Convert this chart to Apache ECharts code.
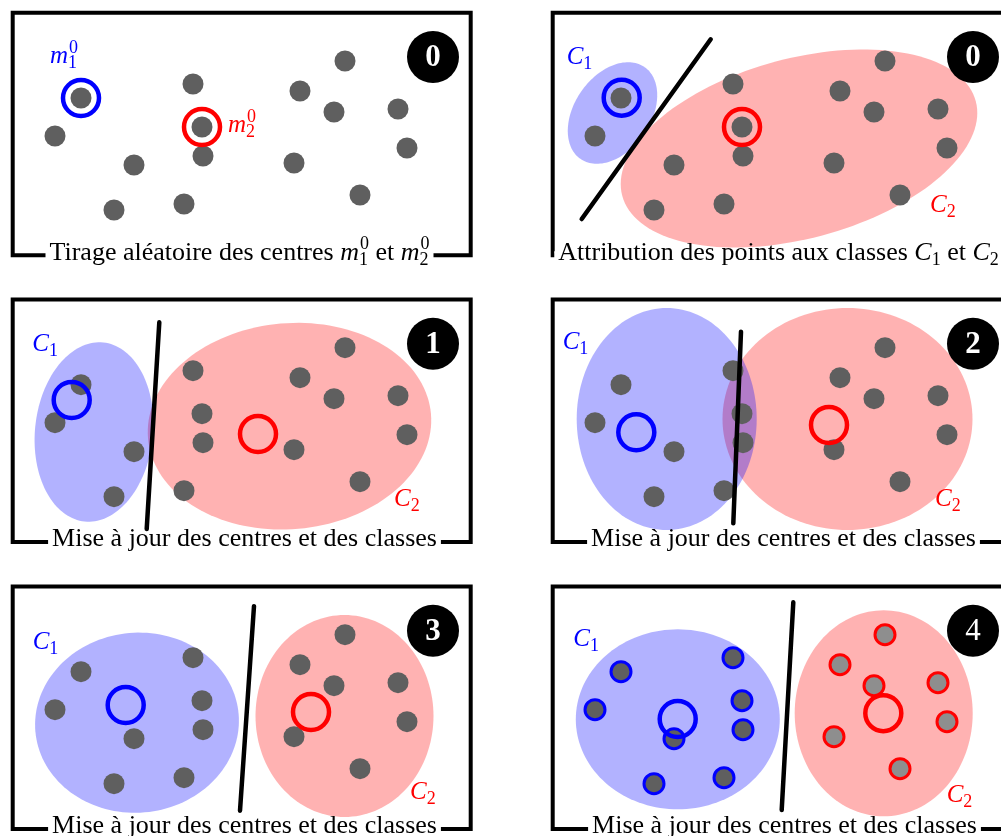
<!DOCTYPE html>
<html><head><meta charset="utf-8">
<script src="https://cdn.jsdelivr.net/npm/echarts@6/dist/echarts.min.js"></script>
<style>html,body{margin:0;padding:0;background:#fff}#c{width:1001px;height:836px}</style>
</head><body><div id="c"></div>
<script>
// ---------- data (panel-local units) ----------
const pointX = [81, 55, 134, 114, 193, 202, 203, 184, 345, 300, 334, 398, 407, 294, 360];
const pointY = [98, 136, 165, 210, 84, 127, 156, 204, 61, 91, 112, 109, 148, 163, 195];
const finalClass = [1, 1, 1, 1, 1, 1, 1, 1, 2, 2, 2, 2, 2, 2, 2];

const badgeLabels = ['0', '0', '1', '2', '3', '4'];
const center1 = [[81, 98], [81.7, 97.7], [71.7, 113.3], [96.3, 145.6], [125.7, 131.3], [137.7, 145.3]];
const center2 = [[202, 127], [202, 127], [258, 147.3], [289, 138.3], [311, 138.3], [343.3, 139.5]];
// [cx, cy, rx, ry, angleDeg]
const ellipse1 = [null, [72.5, 113, 56, 38, 55], [94, 145.3, 59, 90, -6], [126.7, 132.3, 90, 111, 0], [137, 149, 102, 90, 5], [137.8, 145.6, 102, 90, 0]];
const ellipse2 = [null, [259, 148.5, 183, 90, 15], [289.5, 139.5, 142, 103, 5], [307.5, 132.3, 125, 111, 0], [344.5, 142.3, 89, 101, 0], [343.7, 139.6, 89, 103, 0]];
const separators = [null, [[41.7, 219], [170.7, 39.3]], [[146.7, 242.3], [159.3, 35.6]], [[193.3, 236.6], [201, 45]], [[240, 237], [254, 32.5]], [[241.7, 236.3], [253.3, 28.6]]];

const labelMain = ['m', 'C', 'C', 'C', 'C', 'C'];
const labelSup = ['0', '', '', '', '', ''];
const label1Pos = [[50, 64], [26.7, 65], [32.3, 65.6], [22.7, 63.3], [32.7, 76.3], [33.3, 73]];
const label2Pos = [[228, 133], [390, 213], [394, 220], [395, 220], [410, 226], [406.7, 229.6]];

const captionMise = [{t: 'Mise à jour des centres et des classes'}];
const captions = [
  [{t: 'Tirage aléatoire des centres '}, {m: 'm', sub: '1', sup: '0'}, {t: ' et '}, {m: 'm', sub: '2', sup: '0'}],
  [{t: 'Attribution des points aux classes '}, {m: 'C', sub: '1'}, {t: ' et '}, {m: 'C', sub: '2'}],
  captionMise, captionMise, captionMise, captionMise
];
const captionCenterX = [239.5, 238.5, 244.5, 243.5, 244.5, 244.5];

// ---------- layout ----------
const panelLeft = [0, 540, 0, 540, 0, 540];
const panelTop = [0, 0, 286.7, 286.7, 573.7, 573.7];
const GW = 455, GH = 250;
const FRAME = {l: 12.7, t: 12.8, r: 470.7, b: 255.3};
const CAPTION_BASE = 261;
const BADGE = [433, 57];
const SERIF = '"Liberation Serif","Times New Roman",serif';
const BLUE = '#0000ff', RED = '#ff0000', DOT = '#5f5f5f';

const mctx = document.createElement('canvas').getContext('2d');
function tw(text, font) { mctx.font = font; return mctx.measureText(text).width; }
function layoutMath(tokens, fs) {
  const els = []; let x = 0;
  const rm = fs + 'px ' + SERIF, it = 'italic ' + fs + 'px ' + SERIF;
  const sfs = Math.round(fs * 0.7), sm = sfs + 'px ' + SERIF;
  tokens.forEach(tk => {
    if (tk.t !== undefined) { els.push({text: tk.t, font: rm, fs: fs, dx: x, dy: 0}); x += tw(tk.t, rm); }
    else {
      els.push({text: tk.m, font: it, fs: fs, dx: x, dy: 0}); x += tw(tk.m, it);
      let w = 0;
      if (tk.sup) { els.push({text: tk.sup, font: sm, fs: sfs, dx: x + 1, dy: -0.42 * fs}); w = Math.max(w, tw(tk.sup, sm) + 1); }
      if (tk.sub) { els.push({text: tk.sub, font: sm, fs: sfs, dx: x, dy: 0.2 * fs}); w = Math.max(w, tw(tk.sub, sm)); }
      x += w;
    }
  });
  return {els, width: x};
}
function mathChildren(lay, x0, base, color) {
  return lay.els.map(e => ({
    type: 'text', x: x0 + e.dx, y: base + e.dy - 0.31 * e.fs,
    style: {text: e.text, font: e.font, fill: color, align: 'left', verticalAlign: 'middle'}
  }));
}

const grids = [], xAxes = [], yAxes = [], series = [];
for (let p = 0; p < 6; p++) {
  grids.push({left: panelLeft[p], top: panelTop[p], width: GW, height: GH});
  xAxes.push({type: 'value', gridIndex: p, min: 0, max: GW, show: false});
  yAxes.push({type: 'value', gridIndex: p, min: 0, max: GH, inverse: true, show: false});
  const ax = {xAxisIndex: p, yAxisIndex: p, silent: true, clip: false};

  // ellipses (red first, blue on top)
  [[ellipse2[p], 'rgba(255,0,0,0.3)'], [ellipse1[p], 'rgba(0,0,255,0.3)']].forEach(([e, col]) => {
    if (!e) return;
    series.push(Object.assign({
      type: 'custom', z: 1, data: [e],
      renderItem: (params, api) => {
        const cx = api.value(0), cy = api.value(1), rx = api.value(2), ry = api.value(3), th = api.value(4) * Math.PI / 180;
        const pts = [];
        for (let k = 0; k < 144; k++) {
          const t = k / 144 * 2 * Math.PI, px = rx * Math.cos(t), py = ry * Math.sin(t);
          const dx = px * Math.cos(th) - py * Math.sin(th), dy = px * Math.sin(th) + py * Math.cos(th);
          pts.push(api.coord([cx + dx, cy - dy]));
        }
        return {type: 'polygon', shape: {points: pts}, style: {fill: col}};
      }
    }, ax));
  });

  // points
  const pts = pointX.map((x, k) => [x, pointY[k]]);
  if (p < 5) {
    series.push(Object.assign({type: 'scatter', z: 2, symbolSize: 21, data: pts, itemStyle: {color: DOT, opacity: 1}}, ax));
  } else {
    series.push(Object.assign({type: 'scatter', z: 2, symbolSize: 20, data: pts.filter((d, k) => finalClass[k] === 1),
      itemStyle: {color: DOT, borderColor: BLUE, borderWidth: 3, opacity: 1}}, ax));
    series.push(Object.assign({type: 'scatter', z: 2, symbolSize: 20, data: pts.filter((d, k) => finalClass[k] === 2),
      itemStyle: {color: '#8e8e8e', borderColor: RED, borderWidth: 3, opacity: 1}}, ax));
  }

  // separator
  if (separators[p]) {
    series.push(Object.assign({type: 'line', z: 3, data: separators[p], symbol: 'none',
      lineStyle: {color: '#000', width: 4.5, cap: 'round'}}, ax));
  }

  // centres
  [[center1[p], BLUE], [center2[p], RED]].forEach(([c, col]) => {
    series.push(Object.assign({type: 'scatter', z: 4, symbol: 'circle', symbolSize: 36, data: [c],
      itemStyle: {color: 'rgba(0,0,0,0)', borderColor: col, borderWidth: 4.5, opacity: 1}}, ax));
  });

  // frame
  series.push(Object.assign({
    type: 'custom', z: 5, data: [[FRAME.l, FRAME.t, FRAME.r, FRAME.b]],
    renderItem: (params, api) => {
      const a = api.coord([api.value(0), api.value(1)]), b = api.coord([api.value(2), api.value(3)]);
      return {type: 'polygon', shape: {points: [[a[0], b[1]], [a[0], a[1]], [b[0], a[1]], [b[0], b[1]]]},
        style: {fill: null, stroke: '#000', lineWidth: 4, lineJoin: 'miter'}};
    }
  }, ax));

  // caption
  const capLay = layoutMath(captions[p], 26);
  series.push(Object.assign({
    type: 'custom', z: 6, data: [[captionCenterX[p], CAPTION_BASE, FRAME.b]],
    renderItem: (params, api) => {
      const c = api.coord([api.value(0), api.value(1)]);
      const lineY = api.coord([0, api.value(2)])[1];
      const x0 = c[0] - capLay.width / 2;
      const children = [{type: 'rect', shape: {x: x0 - 4, y: lineY - 4, width: capLay.width + 8, height: 8}, style: {fill: '#fff'}}]
        .concat(mathChildren(capLay, x0, c[1], '#000'));
      return {type: 'group', children};
    }
  }, ax));

  // class / centre labels
  [[label1Pos[p], BLUE, '1'], [label2Pos[p], RED, '2']].forEach(([pos, col, idx]) => {
    const lay = layoutMath([{m: labelMain[p], sub: idx, sup: labelSup[p]}], 25);
    series.push(Object.assign({
      type: 'custom', z: 6, data: [pos],
      renderItem: (params, api) => {
        const c = api.coord([api.value(0), api.value(1)]);
        return {type: 'group', children: mathChildren(lay, c[0], c[1], col)};
      }
    }, ax));
  });

  // badge
  series.push(Object.assign({
    type: 'custom', z: 7, data: [BADGE],
    renderItem: (params, api) => {
      const c = api.coord([api.value(0), api.value(1)]);
      const r = api.size([26, 0])[0];
      return {type: 'group', children: [
        {type: 'circle', shape: {cx: c[0], cy: c[1], r: r}, style: {fill: '#000'}},
        {type: 'text', x: c[0], y: c[1] + 1, style: {text: badgeLabels[p], fill: '#fff',
          font: (p === 5 ? 'normal ' : 'bold ') + '31px ' + SERIF, align: 'center', verticalAlign: 'middle'}}
      ]};
    }
  }, ax));
}

const chart = echarts.init(document.getElementById('c'), null, {renderer: 'canvas'});
chart.setOption({animation: false, backgroundColor: '#fff', grid: grids, xAxis: xAxes, yAxis: yAxes, series});
</script></body></html>
